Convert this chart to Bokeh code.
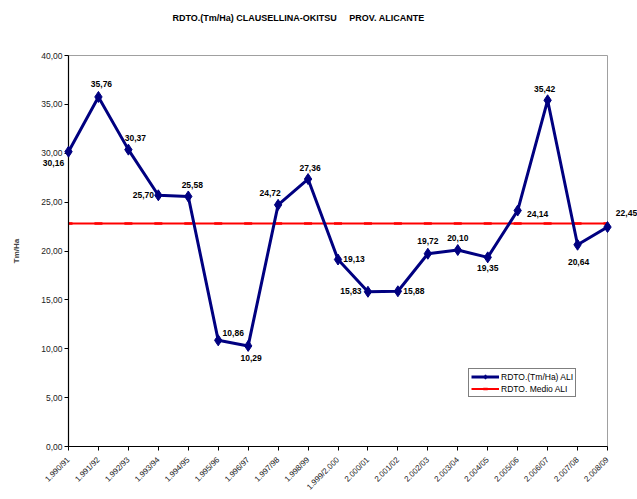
from bokeh.plotting import figure
from bokeh.models import (ColumnDataSource, Range1d, FixedTicker, Legend,
                          LegendItem)
from bokeh.core.properties import value
from bokeh.embed import file_html
from bokeh.resources import INLINE

# Campaigns (x axis) and yield per hectare in Alicante
seasons = ["1.990/91", "1.991/92", "1.992/93", "1.993/94", "1.994/95",
           "1.995/96", "1.996/97", "1.997/98", "1.998/99", "1.999/2.000",
           "2.000/01", "2.001/02", "2.002/03", "2.003/04", "2.004/05",
           "2.005/06", "2.006/07", "2.007/08", "2.008/09"]
yields = [30.16, 35.76, 30.37, 25.70, 25.58, 10.86, 10.29, 24.72, 27.36,
          19.13, 15.83, 15.88, 19.72, 20.10, 19.35, 24.14, 35.42, 20.64,
          22.45]
mean_yield = 22.81
y_ticks = [0, 5, 10, 15, 20, 25, 30, 35, 40]
heading_text = "RDTO.(Tm/Ha) CLAUSELLINA-OKITSU\u00a0\u00a0\u00a0\u00a0\u00a0PROV. ALICANTE"

# Pixel offsets of each value label relative to its point (right / down)
label_dx = [-15, 3, 7, -15, 4, 15, 3, -8, 2, 16, -17, 16, 0, 0, 0, 20, -3, 1, 19]
label_dy = [11, -13, -12, 0, -11, -7, 12, -12, -11, -1, -1, 0, -13, -12, 11, 3, -11, 17, -14]

FONT = "Liberation Sans"
NAVY = "#000080"
RED = "#FF0000"

def es_num(v):
    return f"{v:.2f}".replace(".", ",")

xs = list(range(len(seasons)))
src = ColumnDataSource(dict(
    x=xs, y=yields, mean=[mean_yield] * len(seasons),
    label=[es_num(v) for v in yields], dx=label_dx, dy=label_dy,
))

y_top = y_ticks[-1]
p = figure(width=637, height=499, output_backend="svg", toolbar_location=None,
           x_range=Range1d(0, len(seasons) - 1), y_range=Range1d(0, y_top),
           min_border_left=68, min_border_right=30, min_border_top=55,
           min_border_bottom=53, title=None)
p.background_fill_color = "white"
p.border_fill_color = "white"
p.outline_line_color = "#A0A0A0"
p.outline_line_width = 1
p.xgrid.visible = False
p.ygrid.visible = False

# y axis
p.yaxis.ticker = FixedTicker(ticks=y_ticks)
p.yaxis.major_label_overrides = {t: es_num(t) for t in y_ticks}
p.yaxis.axis_label = "Tm/Ha"
p.yaxis.axis_label_text_font = FONT
p.yaxis.axis_label_text_font_size = "8px"
p.yaxis.axis_label_text_font_style = "bold"
p.yaxis.axis_label_standoff = 17
p.yaxis.major_label_standoff = 2

# x axis
p.xaxis.ticker = FixedTicker(ticks=xs)
p.xaxis.major_label_overrides = {i: s for i, s in enumerate(seasons)}
p.xaxis.major_label_orientation = 0.785398
p.xaxis.major_label_standoff = 8

for ax in (p.xaxis[0], p.yaxis[0]):
    ax.axis_line_color = "black"
    ax.axis_line_width = 1.2
    ax.major_tick_line_color = "black"
    ax.major_tick_out = 4
    ax.major_tick_in = 0
    ax.minor_tick_line_color = None
    ax.major_label_text_font = FONT
    ax.major_label_text_color = "#222222"
p.yaxis.major_label_text_font_size = "8.5px"
p.xaxis.major_label_text_font_size = "8px"

# mean line
mean_line = p.line("x", "mean", source=src, line_color=RED, line_width=2)
mean_mark = p.scatter("x", "mean", source=src, marker="dash", size=8,
                      line_color=RED, line_width=2.5)

# yield series
yl = p.line("x", "y", source=src, line_color=NAVY, line_width=3)
ym = p.scatter("x", "y", source=src, marker="diamond", size=11,
               fill_color=NAVY, line_color=NAVY, level="overlay")

labels = p.text("x", "y", text="label", source=src, x_offset="dx",
                y_offset="dy", text_align="center", text_baseline="middle",
                text_font=value(FONT), text_font_size="8.5px",
                text_font_style="bold", text_color="black", level="overlay")

# chart heading in the top margin, anchored to the top-left corner of the plot area
p.text(x=[xs[0]], y=[y_top], text=[heading_text], x_offset=104, y_offset=-38,
       text_align="left", text_baseline="middle", text_font=value(FONT),
       text_font_size="9px", text_font_style="bold", text_color="black",
       level="overlay")

legend = Legend(items=[LegendItem(label="RDTO.(Tm/Ha) ALI", renderers=[yl, ym]),
                       LegendItem(label="RDTO. Medio ALI", renderers=[mean_line, mean_mark])],
                location=(400, 49), orientation="vertical",
                border_line_color="black", border_line_width=1,
                background_fill_color="white", background_fill_alpha=1,
                label_text_font=FONT, label_text_font_size="8.5px",
                label_text_color="black", glyph_width=28, glyph_height=11,
                label_height=11, label_standoff=2, padding=2, spacing=1,
                margin=0)
p.add_layout(legend, "center")

open("out.html", "w").write(file_html(p, INLINE))
